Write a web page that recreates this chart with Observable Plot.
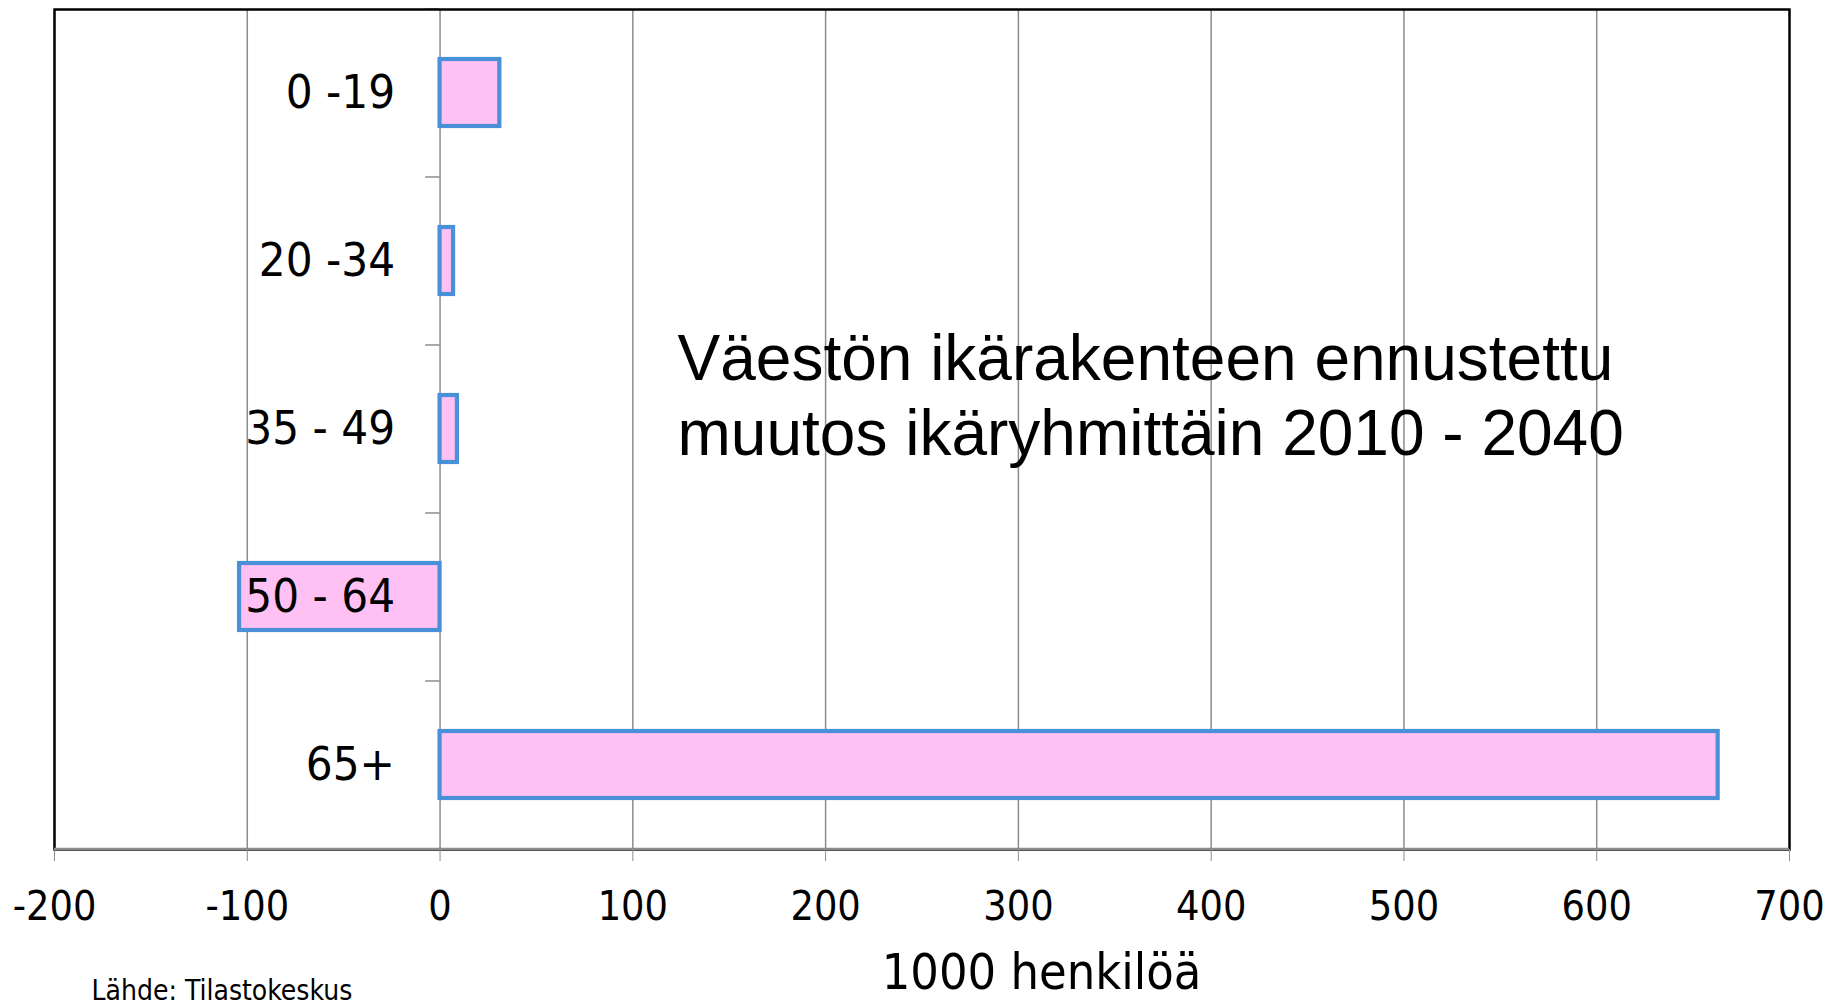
<!DOCTYPE html>
<html><head><meta charset="utf-8">
<script src="https://cdn.jsdelivr.net/npm/d3@7"></script>
<script src="https://cdn.jsdelivr.net/npm/@observablehq/plot@0.6"></script>
<style>html,body{margin:0;padding:0;background:#fff;} #chart svg{display:block}</style>
</head><body><div id="chart"></div>
<script>
const ageGroups = ["0 -19", "20 -34", "35 - 49", "50 - 64", "65+"];
const changes = [31, 7, 9, -104, 663];
const xTicks = [-200, -100, 0, 100, 200, 300, 400, 500, 600, 700];
const gridTicks = [-100, 0, 100, 200, 300, 400, 500, 600];
const titleLines = ["Väestön ikärakenteen ennustettu", "muutos ikäryhmittäin 2010 - 2040"];
const xLabel = "1000 henkilöä";
const source = "Lähde: Tilastokeskus";

const data = ageGroups.map((g, i) => ({group: g, value: changes[i]}));
const W = 1830, H = 1005, mL = 54, mR = 41, mT = 9, mB = 156;
const step = (H - mT - mB) / ageGroups.length;
const font = '"DejaVu Sans Condensed", "DejaVu Sans", sans-serif';

const chart = Plot.plot({
  width: W, height: H, marginLeft: mL, marginRight: mR, marginTop: mT, marginBottom: mB,
  style: {fontFamily: font, background: "#fff", color: "#000", overflow: "visible"},
  x: {domain: [-200, 700]},
  y: {domain: ageGroups, paddingInner: 0.6, paddingOuter: 0.3, axis: null},
  marks: [
    Plot.ruleX(gridTicks, {stroke: "#8c8c8c", strokeWidth: 1.5}),
    Plot.barX(data, {x1: 0, x2: "value", y: "group", fill: "#ffc0f3", stroke: "#4a90d9", strokeWidth: 4.2}),
    Plot.ruleY(ageGroups, {y: d => d, x1: -7.5, x2: 0, dy: -step / 2, stroke: "#8c8c8c", strokeWidth: 1.5}),
    Plot.frame({stroke: "#000", strokeWidth: 2.5}),
    Plot.ruleY([ageGroups[ageGroups.length - 1]], {y: d => d, dy: step / 2, stroke: "#8c8c8c", strokeWidth: 2.5}),
    Plot.axisX(xTicks, {label: null, tickSize: 12, tickPadding: 29, fontSize: 41, stroke: "#8c8c8c", fill: "#000", tickFormat: d => String(d)}),
    Plot.text(data, {x: 0, y: "group", text: "group", textAnchor: "end", dx: -45, fontSize: 47, fill: "#000"}),
    Plot.text([titleLines.join("\n")], {frameAnchor: "top-left", text: d => d, dx: 623, dy: 317, lineAnchor: "top", textAnchor: "start", fontSize: 64, lineHeight: 1.17, fontFamily: '"Liberation Sans", Arial, sans-serif', fill: "#000"}),
    Plot.text([xLabel], {frameAnchor: "bottom-left", text: d => d, dx: 987, dy: 104, lineAnchor: "top", textAnchor: "middle", fontSize: 50, fill: "#000"}),
    Plot.text([source], {frameAnchor: "bottom-left", text: d => d, dx: 37, dy: 131, lineAnchor: "top", textAnchor: "start", fontSize: 28, fill: "#000"})
  ]
});
document.getElementById("chart").appendChild(chart);
</script>
</body></html>
